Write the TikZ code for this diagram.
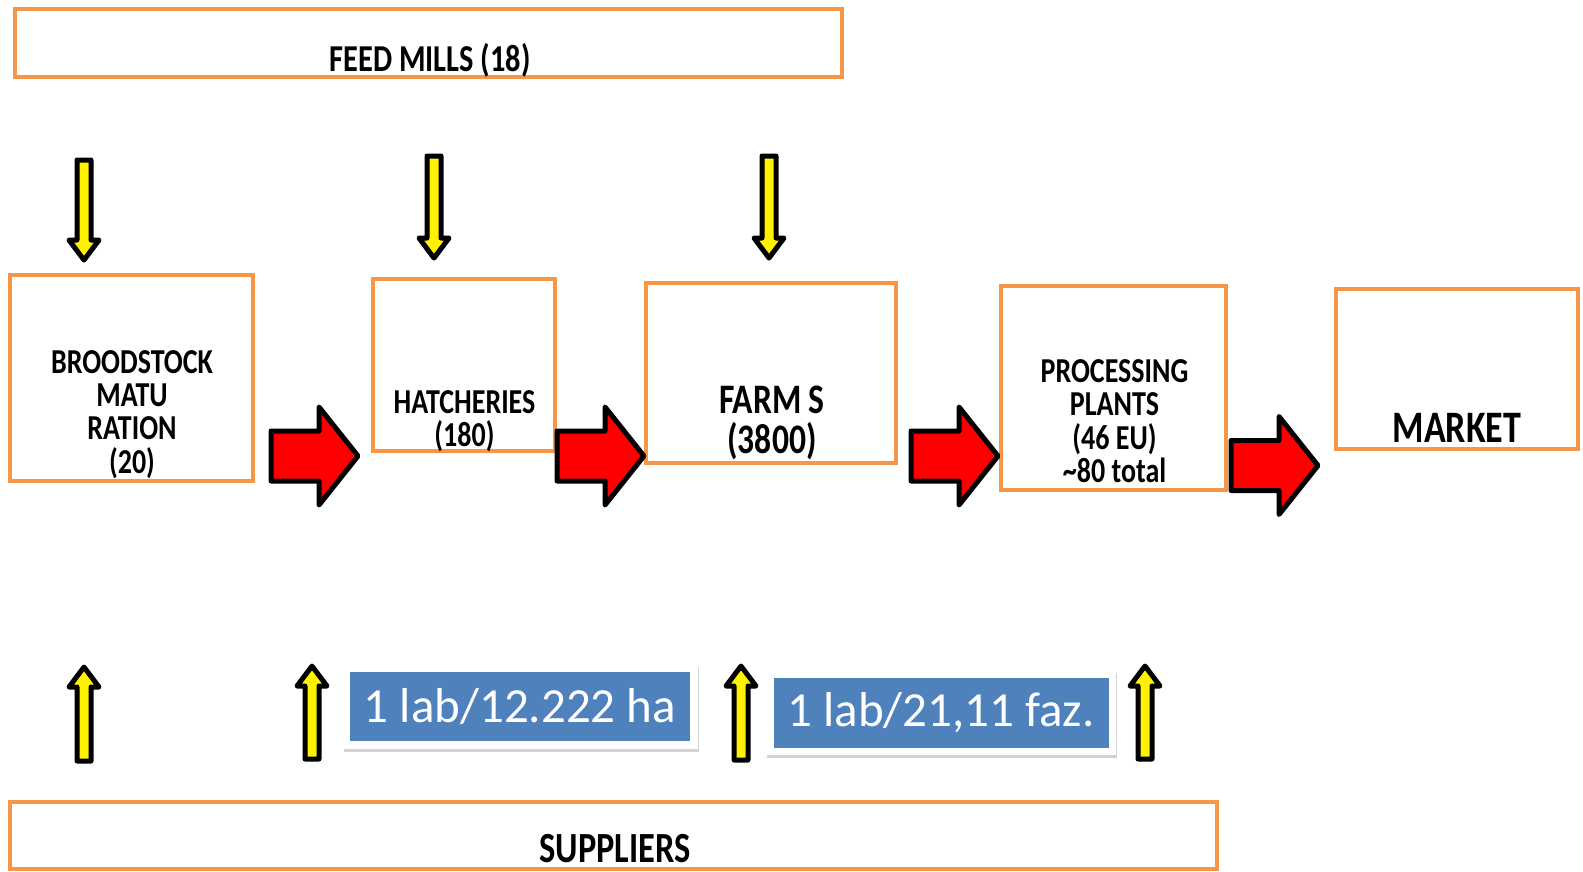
\documentclass[tikz,border=0pt]{standalone}
\usepackage{fontspec}
\setmainfont{Carlito}
\newfontfamily\boxfont[FakeStretch=0.80]{Carlito}
\usetikzlibrary{shadows}

\definecolor{boxorange}{HTML}{F79646}
\definecolor{tagblue}{HTML}{4F81BD}

\tikzset{
  box/.style={draw=boxorange, line width=4pt, inner sep=0pt},
  lbl/.style={inner sep=0pt, align=center},
  card/.style={fill=white, inner sep=0pt,
    drop shadow={opacity=0.35, shadow xshift=1pt, shadow yshift=-3pt}},
  tag/.style={fill=tagblue, text=white, inner sep=0pt,
    font=\fontsize{49}{58}\selectfont},
  % red block arrow between the stages
  pics/flow/.style={code={
    \filldraw[fill=red, draw=black, line width=5pt, line join=round]
      (0,-25) -- (48,-25) -- (48,-49) -- (87,0) -- (48,49) -- (48,25) -- (0,25) -- cycle;}},
  % yellow input arrow, #1 = length
  pics/feed/.style={code={
    \filldraw[fill=yellow, draw=black, line width=5pt, line join=round]
      (-7,0) -- (7,0) -- (7,#1-20) -- (15,#1-20) -- (0,#1) -- (-15,#1-20) -- (-7,#1-20) -- cycle;}},
}

\begin{document}
\begin{tikzpicture}[x=1pt,y=-1pt]
\useasboundingbox (0,0) rectangle (1583,871);

% top and bottom bars
\node[box, minimum width=827pt, minimum height=68pt] (feed) at (428.5,43) {};
\node[box, minimum width=1207pt, minimum height=67pt] (suppliers) at (613.8,835.5) {};
\node[lbl, anchor=base, font=\boxfont\bfseries\fontsize{38}{40}\selectfont] (feedtxt) at (430,71) {FEED MILLS (18)};
\node[lbl, anchor=base, font=\boxfont\bfseries\fontsize{43}{45}\selectfont] (supptxt) at (615,862) {SUPPLIERS};

% the stages
\node[box, minimum width=243pt, minimum height=206pt] (brood) at (131.5,378) {};
\node[box, minimum width=182pt, minimum height=172pt] (hatch) at (463.8,365) {};
\node[box, minimum width=250pt, minimum height=180pt] (farms) at (771.3,373) {};
\node[box, minimum width=225pt, minimum height=204pt] (proc) at (1113,388) {};
\node[box, minimum width=242pt, minimum height=160pt] (market) at (1457,369) {};

\node[lbl, anchor=north, font=\boxfont\bfseries\fontsize{35}{33.3}\selectfont] (broodtxt) at (132,350) {BROODSTOCK\\MATU\\RATION\\(20)};
\node[lbl, anchor=north, font=\boxfont\bfseries\fontsize{35}{33.3}\selectfont] (hatchtxt) at (464.5,390.5) {HATCHERIES\\(180)};
\node[lbl, anchor=north, font=\boxfont\bfseries\fontsize{42}{40.4}\selectfont] (farmstxt) at (772,385.5) {FARM S\\(3800)};
\node[lbl, anchor=north, font=\boxfont\bfseries\fontsize{35}{33.3}\selectfont] (proctxt) at (1114.5,359.5) {PROCESSING\\PLANTS\\(46 EU)\\\textasciitilde80 total};
\node[lbl, anchor=base, font=\boxfont\bfseries\fontsize{45}{47}\selectfont] (markettxt) at (1457,442) {MARKET};

% red arrows
\pic at (271,456) {flow};
\pic at (557,456) {flow};
\pic at (911,456) {flow};
\pic at (1231,465.5) {flow};

% yellow arrows from the feed mills
\pic at (84,160) {feed=100};
\pic at (434,156) {feed=102};
\pic at (769,156) {feed=102};

% yellow arrows from the suppliers
\pic[rotate=180] at (84,761) {feed=94};
\pic[rotate=180] at (312,759) {feed=93};
\pic[rotate=180] at (741,760) {feed=94};
\pic[rotate=180] at (1145,759) {feed=93};

% ratio tags
\node[card, minimum width=355pt, minimum height=85pt] (labcard) at (520,706.5) {};
\node[tag, minimum width=340pt, minimum height=69pt] (labtag) at (labcard) {1 lab/12.222 ha};
\node[card, minimum width=350pt, minimum height=85pt] (fazcard) at (941,712.5) {};
\node[tag, minimum width=335pt, minimum height=70pt] (faztag) at (fazcard) {1 lab/21,11 faz.};

\end{tikzpicture}
\end{document}
